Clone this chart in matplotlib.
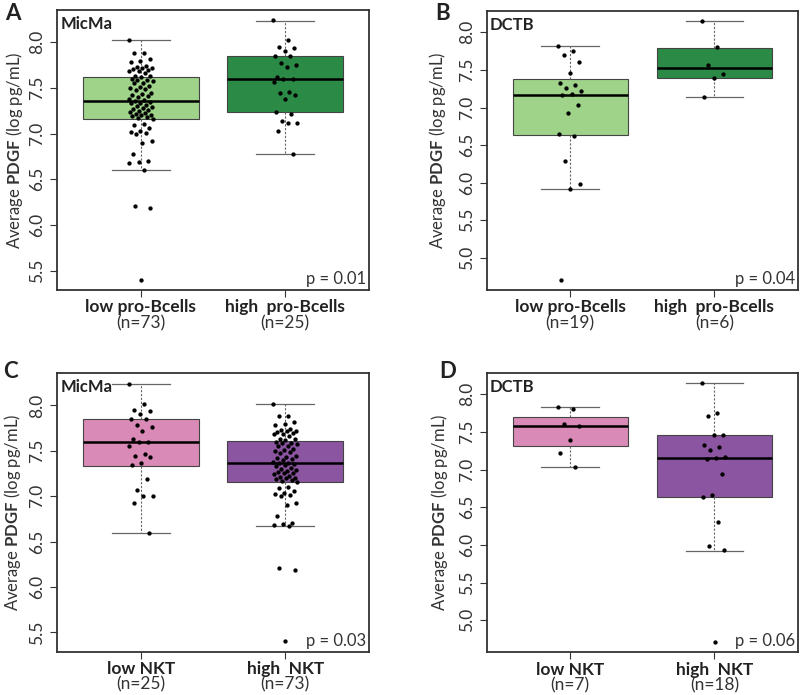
import numpy as np
import matplotlib.pyplot as plt

plt.rcParams['font.family'] = ['Lato', 'DejaVu Sans']
plt.rcParams['mathtext.fontset'] = 'custom'
plt.rcParams['mathtext.rm'] = 'Lato'
plt.rcParams['mathtext.bf'] = 'Lato:bold'

# ---- data (log pg/mL) ----
micma_low_bcells = [8.02, 7.88, 7.88, 7.82, 7.79, 7.78, 7.74, 7.73, 7.72, 7.72, 7.71, 7.70,
                    7.69, 7.69, 7.66, 7.63, 7.63, 7.62,
                    7.60, 7.59, 7.59, 7.58, 7.55, 7.55, 7.52, 7.51, 7.50, 7.49, 7.48, 7.44,
                    7.43, 7.42, 7.41, 7.40, 7.38, 7.37, 7.36,
                    7.35, 7.34, 7.33, 7.31, 7.30, 7.29, 7.28, 7.27, 7.26, 7.25, 7.24, 7.22,
                    7.21, 7.20, 7.20, 7.19, 7.18, 7.17,
                    7.16, 7.10, 7.09, 7.06, 7.03, 7.02, 7.01, 7.00, 6.92, 6.90, 6.78, 6.70,
                    6.69, 6.68, 6.60, 6.21, 6.19, 5.40]
micma_high_bcells = [8.24, 8.02, 7.95, 7.94, 7.90, 7.85, 7.85, 7.77, 7.755, 7.725, 7.62, 7.60,
                     7.60, 7.56, 7.46, 7.45, 7.42, 7.38, 7.24, 7.215, 7.14, 7.12, 7.12, 7.03, 6.775]
dctb_low_bcells = [7.82, 7.755, 7.70, 7.60, 7.46, 7.32, 7.30, 7.255, 7.22, 7.18, 7.16, 7.03,
                   6.93, 6.65, 6.62, 6.29, 5.98, 5.91, 4.71]
dctb_high_bcells = [8.15, 7.80, 7.57, 7.45, 7.39, 7.135]
micma_low_nkt = [8.24, 8.01, 7.95, 7.94, 7.90, 7.85, 7.85, 7.78, 7.76, 7.72, 7.63, 7.60, 7.60,
                 7.55, 7.46, 7.44, 7.43, 7.37, 7.34, 7.19, 7.07, 7.00, 7.00, 6.925, 6.59]
micma_high_nkt = [8.02, 7.88, 7.88, 7.82, 7.79, 7.78, 7.74, 7.73, 7.72, 7.72, 7.71, 7.70,
                  7.69, 7.69, 7.66, 7.63, 7.63, 7.62,
                  7.60, 7.59, 7.59, 7.58, 7.55, 7.55, 7.52, 7.51, 7.50, 7.49, 7.48, 7.44,
                  7.43, 7.42, 7.41, 7.40, 7.38, 7.37, 7.36,
                  7.35, 7.34, 7.33, 7.31, 7.30, 7.29, 7.28, 7.27, 7.26, 7.25, 7.24, 7.22,
                  7.21, 7.20, 7.20, 7.19, 7.18, 7.17,
                  7.16, 7.10, 7.09, 7.06, 7.03, 7.02, 7.01, 7.00, 6.92, 6.90, 6.78, 6.70,
                  6.69, 6.68, 6.67, 6.21, 6.19, 5.40]
dctb_low_nkt = [7.83, 7.81, 7.60, 7.575, 7.39, 7.22, 7.04]
dctb_high_nkt = [8.15, 7.755, 7.71, 7.46, 7.46, 7.33, 7.30, 7.26, 7.17, 7.16, 7.14, 6.94,
                 6.66, 6.63, 6.30, 5.99, 5.93, 4.71]

# box stats (whisker low, q1, median, q3, whisker high)
stats_A = [(6.60, 7.16, 7.36, 7.615, 8.02), (6.775, 7.235, 7.60, 7.85, 8.235)]
stats_B = [(5.91, 6.64, 7.16, 7.385, 7.82), (7.135, 7.39, 7.52, 7.795, 8.145)]
stats_C = [(6.595, 7.337, 7.60, 7.846, 8.235), (6.67, 7.16, 7.36, 7.61, 8.015)]
stats_D = [(7.04, 7.31, 7.58, 7.70, 7.83), (5.92, 6.63, 7.16, 7.46, 8.15)]

labels_bcells = ["low pro-Bcells", "high  pro-Bcells"]
labels_nkt = ["low NKT", "high  NKT"]
greens = ['#9fd38a', '#2b8a46']
purples = ['#d98ab6', '#8b55a2']


def draw_panel(ax, values, stats, labels, colors, cohort, pval, yticks):
    bx = []
    for s in stats:
        bx.append(dict(whislo=s[0], q1=s[1], med=s[2], q3=s[3], whishi=s[4], fliers=[]))
    bp = ax.bxp(bx, positions=[1, 2], widths=0.8, capwidths=0.4, patch_artist=True,
                showfliers=False,
                boxprops=dict(edgecolor='#444444', linewidth=0.8),
                medianprops=dict(color='black', linewidth=1.8),
                whiskerprops=dict(color='#666666', linestyle=(0, (2, 1.5)), linewidth=0.8),
                capprops=dict(color='#666666', linewidth=0.9))
    for patch, c in zip(bp['boxes'], colors):
        patch.set_facecolor(c)

    # jittered points (deterministic spread)
    for i, vals in enumerate(values):
        n = len(vals)
        offs = ((np.arange(n) * 0.618034) % 1 - 0.5) * 0.17
        ax.plot(i + 1 + offs, vals, 'o', color='black', markersize=2.1, zorder=3)

    allv = np.concatenate([np.array(v) for v in values])
    lo, hi = allv.min(), allv.max()
    pad = (hi - lo) * 0.04
    ax.set_ylim(lo - pad, hi + pad)
    ax.set_xlim(0.42, 2.58)
    ax.set_yticks(yticks)
    ax.set_yticklabels(["%.1f" % t for t in yticks], rotation=90, va='center')
    ax.set_xticks([1, 2])
    ax.set_xticklabels([])
    ax.tick_params(axis='both', direction='out', length=5, width=0.8, color='#333333',
                   labelsize=12.5, labelcolor='#333333')
    for sp in ax.spines.values():
        sp.set_linewidth(1.3)
        sp.set_color('#333333')

    for i, (lab, vals) in enumerate(zip(labels, values)):
        ax.text(i + 1, -0.062, lab, transform=ax.get_xaxis_transform(), ha='center', va='center',
                fontsize=12.5, fontweight='bold', color='#222222')
        ax.text(i + 1, -0.118, "(n=%d)" % len(vals), transform=ax.get_xaxis_transform(),
                ha='center', va='center', fontsize=12.5, color='#333333')

    ax.text(0.01, 0.95, cohort, transform=ax.transAxes, ha='left', va='center',
            fontsize=12, fontweight='bold', color='#222222')
    ax.text(0.99, 0.04, "p = %s" % pval, transform=ax.transAxes, ha='right', va='center',
            fontsize=12, color='#333333')
    ax.set_ylabel("Average $\\mathbf{PDGF}$ (log pg/mL)", fontsize=12, color='#333333')


fig = plt.figure(figsize=(8, 6.95), dpi=100)
axA = fig.add_axes([0.0713, 0.5827, 0.39, 0.4029])
axB = fig.add_axes([0.6084, 0.5827, 0.389, 0.4019])
axC = fig.add_axes([0.0713, 0.0623, 0.39, 0.4006])
axD = fig.add_axes([0.6084, 0.0614, 0.389, 0.4023])

draw_panel(axA, [micma_low_bcells, micma_high_bcells], stats_A, labels_bcells, greens,
           "MicMa", "0.01", np.arange(5.5, 8.01, 0.5))
draw_panel(axB, [dctb_low_bcells, dctb_high_bcells], stats_B, labels_bcells, greens,
           "DCTB", "0.04", np.arange(5.0, 8.01, 0.5))
draw_panel(axC, [micma_low_nkt, micma_high_nkt], stats_C, labels_nkt, purples,
           "MicMa", "0.03", np.arange(5.5, 8.01, 0.5))
draw_panel(axD, [dctb_low_nkt, dctb_high_nkt], stats_D, labels_nkt, purples,
           "DCTB", "0.06", np.arange(5.0, 8.01, 0.5))

# label anchor is its right edge
axA.yaxis.set_label_coords(-0.103, 0.5)
axB.yaxis.set_label_coords(-0.124, 0.5)
axC.yaxis.set_label_coords(-0.11, 0.5)
axD.yaxis.set_label_coords(-0.118, 0.5)

for lab, x, y in [("A", 0.016, 0.98), ("B", 0.553, 0.98), ("C", 0.0125, 0.465), ("D", 0.56, 0.465)]:
    fig.text(x, y, lab, ha='center', va='center', fontsize=16, fontweight='bold', color='#222222')

fig.savefig("out.png", dpi=100)
